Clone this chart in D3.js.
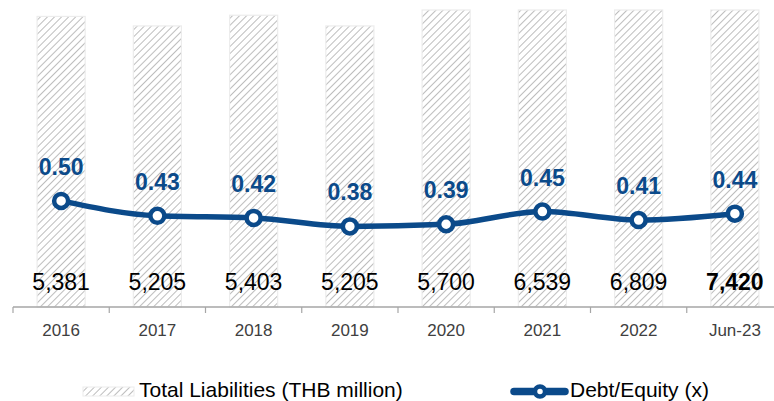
<!DOCTYPE html>
<html>
<head>
<meta charset="utf-8">
<script src="https://cdn.jsdelivr.net/npm/d3@7"></script>
<style>
  html, body { margin: 0; padding: 0; background: #fff; }
  svg { display: block; font-family: Arial, "Liberation Sans", sans-serif; }
</style>
</head>
<body>
<svg id="chart" width="774" height="401"></svg>
<script>
// Periods shown on the category axis
const categories = ["2016", "2017", "2018", "2019", "2020", "2021", "2022", "Jun-23"];
// Total liabilities, THB million
const liabilities = [5381, 5205, 5403, 5205, 5700, 6539, 6809, 7420];
// Debt to equity ratio, times
const debtEquity = [0.50, 0.43, 0.42, 0.38, 0.39, 0.45, 0.41, 0.44];

const blue = "#0b4a8a";
const svg = d3.select("#chart");

// hatched fill for the liability bars
const defs = svg.append("defs");
const pat = defs.append("pattern")
  .attr("id", "hatch")
  .attr("patternUnits", "userSpaceOnUse")
  .attr("width", 5).attr("height", 5)
  .attr("patternTransform", "rotate(45)");
pat.append("rect").attr("width", 5).attr("height", 5).attr("fill", "#fff");
pat.append("line")
  .attr("x1", 0).attr("y1", 0).attr("x2", 0).attr("y2", 5)
  .attr("stroke", "#bdbdbd").attr("stroke-width", 2);

const baseY = 307, topY = 10;
const x = d3.scaleBand().domain(categories).range([13, 783])
  .paddingInner(0.5).paddingOuter(0.25);
const yBar = d3.scaleLinear().domain([0, 5500]).range([baseY, topY]).clamp(true);
const yLine = d3.scaleLinear().domain([0, 1.4]).range([baseY, topY]);

// bars
svg.append("g").selectAll("rect")
  .data(categories)
  .join("rect")
  .attr("x", d => x(d))
  .attr("width", x.bandwidth())
  .attr("y", (d, i) => yBar(liabilities[i]))
  .attr("height", (d, i) => baseY - yBar(liabilities[i]))
  .attr("fill", "url(#hatch)")
  .attr("stroke", "#ececec")
  .attr("stroke-width", 1.2);

// bar value labels
const fmt = d3.format(",");
svg.append("g").selectAll("text")
  .data(categories)
  .join("text")
  .attr("x", d => x(d) + x.bandwidth() / 2)
  .attr("y", 290)
  .attr("text-anchor", "middle")
  .attr("font-size", 23)
  .attr("font-weight", (d, i) => i === categories.length - 1 ? "bold" : "normal")
  .attr("fill", "#000")
  .text((d, i) => fmt(liabilities[i]));

// category axis with boundary ticks
const axisG = svg.append("g");
axisG.append("line")
  .attr("x1", 13).attr("x2", 774)
  .attr("y1", baseY).attr("y2", baseY)
  .attr("stroke", "#a6a6a6").attr("stroke-width", 1.5);
const step = x.step();
const edges = d3.range(categories.length + 1).map(i => 13 + i * step);
axisG.selectAll("line.tick")
  .data(edges)
  .join("line")
  .attr("class", "tick")
  .attr("x1", d => d).attr("x2", d => d)
  .attr("y1", baseY).attr("y2", baseY + 6)
  .attr("stroke", "#a6a6a6").attr("stroke-width", 1.2);
axisG.selectAll("text")
  .data(categories)
  .join("text")
  .attr("x", d => x(d) + x.bandwidth() / 2)
  .attr("y", 336)
  .attr("text-anchor", "middle")
  .attr("font-size", 17)
  .attr("fill", "#404040")
  .text(d => d);

// debt/equity line
const pts = categories.map((c, i) => [x(c) + x.bandwidth() / 2, yLine(debtEquity[i])]);
svg.append("path")
  .attr("d", d3.line().curve(d3.curveMonotoneX)(pts))
  .attr("fill", "none")
  .attr("stroke", blue)
  .attr("stroke-width", 5.5);
svg.append("g").selectAll("circle")
  .data(pts)
  .join("circle")
  .attr("cx", d => d[0]).attr("cy", d => d[1])
  .attr("r", 7)
  .attr("fill", "#fff")
  .attr("stroke", blue)
  .attr("stroke-width", 4.5);
svg.append("g").selectAll("text")
  .data(pts)
  .join("text")
  .attr("x", d => d[0])
  .attr("y", d => d[1] - 26)
  .attr("text-anchor", "middle")
  .attr("font-size", 23)
  .attr("font-weight", "bold")
  .attr("fill", blue)
  .text((d, i) => debtEquity[i].toFixed(2));

// legend
const lg = svg.append("g");
lg.append("rect")
  .attr("x", 83).attr("y", 387).attr("width", 51).attr("height", 9)
  .attr("fill", "url(#hatch)").attr("stroke", "#ececec");
lg.append("text")
  .attr("x", 139).attr("y", 397)
  .attr("font-size", 21).attr("fill", "#000")
  .text("Total Liabilities (THB million)");
lg.append("line")
  .attr("x1", 514).attr("x2", 565).attr("y1", 391.5).attr("y2", 391.5)
  .attr("stroke", blue).attr("stroke-width", 7.5).attr("stroke-linecap", "round");
lg.append("circle")
  .attr("cx", 540).attr("cy", 391.5).attr("r", 5)
  .attr("fill", "#fff").attr("stroke", blue).attr("stroke-width", 4.5);
lg.append("text")
  .attr("x", 570).attr("y", 397)
  .attr("font-size", 21).attr("fill", "#000")
  .text("Debt/Equity (x)");
</script>
</body>
</html>
